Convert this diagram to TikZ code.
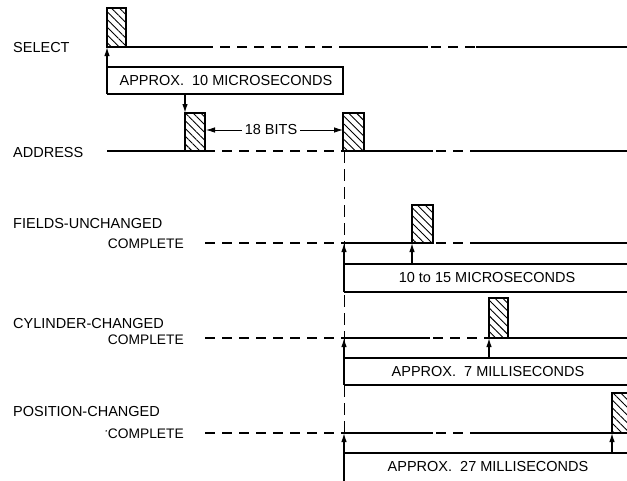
\documentclass[tikz,border=0pt]{standalone}
\usepackage{fontspec}
\setmainfont{Liberation Sans}
\usetikzlibrary{arrows.meta,patterns.meta}
\tikzset{
  sig/.style={line width=2pt},
  sigdash/.style={line width=2pt, dash pattern=on 10pt off 7pt},
  boxline/.style={line width=1.3pt},
  pulse/.style={draw, line width=1.4pt, pattern={Lines[angle=-45,distance=5.5pt,line width=0.9pt]}},
  arr/.style={line width=1.3pt, -{Latex[length=9pt,width=5.5pt]}},
  lbl/.style={font=\fontsize{14.5}{17}\selectfont, inner sep=0pt},
  lblc/.style={font=\fontsize{13.8}{17}\selectfont, inner sep=0pt},
  vdash/.style={line width=1pt, dash pattern=on 12pt off 6pt},
}
\begin{document}
\begin{tikzpicture}[x=1pt,y=-1pt]
\useasboundingbox (0,0) rectangle (627,480);
\clip (0,0) rectangle (627,480);

% ---------- labels ----------
\node[lbl, anchor=west] (lsel) at (13,48) {SELECT};
\node[lbl, anchor=west] (ladr) at (13,153) {ADDRESS};
\node[lbl, anchor=west] (lfu) at (13,224) {FIELDS-UNCHANGED};
\node[lblc, anchor=east] (lfuc) at (184,244) {COMPLETE};
\node[lbl, anchor=west] (lcc) at (13,324) {CYLINDER-CHANGED};
\node[lblc, anchor=east] (lccc) at (184,340) {COMPLETE};
\node[lbl, anchor=west] (lpc) at (13,412) {POSITION-CHANGED};
\node[lblc, anchor=east] (lpcc) at (184,434) {COMPLETE};
\fill ([xshift=-1.5pt,yshift=-2pt]lpcc.north west) circle (0.8);

% ---------- key coordinates ----------
\coordinate (s0) at (107,47);
\coordinate (s1) at (126,47);
\coordinate (a0) at (107,151);
\coordinate (a1) at (185,151);
\coordinate (a2) at (205,151);
\coordinate (a3) at (343,151);
\coordinate (a4) at (364,151);

% ---------- vertical dashed reference line ----------
\draw[vdash] (344,151) -- (344,480);

% ---------- SELECT ----------
\path[pulse] (107,8) rectangle (126,47);
\draw[sig] (s1) -- (203,47);
\draw[sigdash] (203,47) -- (343,47);
\draw[sig] (343,47) -- (428,47);
\draw[sigdash] (431,47) -- (476,47);
\draw[sig] (476,47) -- (627,47);
% box
\draw[boxline] (107,67) -- (343,67) -- (343,94) -- (107,94);
\draw[arr] (107,94) -- (s0);
\node[lbl] (t10) at (226,81) {APPROX.\ \ 10 MICROSECONDS};
\coordinate (ab) at (185,94);
\coordinate (at) at (185,113);
\draw[arr] (ab) -- (at);

% ---------- ADDRESS ----------
\draw[sig] (a0) -- (a1);
\path[pulse] (185,113) rectangle (205,151);
\draw[sigdash] (a2) -- (a3);
\path[pulse] (343,113) rectangle (364,151);
\draw[sig] (a4) -- (433,151);
\draw[sigdash] (436,151) -- (476,151);
\draw[sig] (476,151) -- (627,151);
\node[lbl] (bits) at (271,130) {18 BITS};
\coordinate (p1r) at (206,130);
\coordinate (p2l) at (343,130);
\draw[arr, line width=0.8pt, shorten <=3pt] (bits.west) -- (p1r);
\draw[arr, line width=0.8pt, shorten <=3pt] (bits.east) -- (p2l);

% ---------- FIELDS-UNCHANGED ----------
\draw[sigdash] (205,243) -- (344,243);
\draw[sig] (344,243) -- (433,243);
\path[pulse] (412,205) rectangle (433,243);
\draw[sigdash] (436,243) -- (477,243);
\draw[sig] (477,243) -- (627,243);
\draw[boxline] (627,264) -- (344,264);
\draw[boxline] (344,292) -- (627,292);
\draw[arr] (344,292) -- (344,243);
\draw[arr] (412,264) -- (412,243);
\node[lbl] (t1015) at (487,278) {10 to 15 MICROSECONDS};

% ---------- CYLINDER-CHANGED ----------
\draw[sigdash] (205,338) -- (344,338);
\draw[sig] (344,338) -- (430,338);
\draw[sigdash] (433,338) -- (489,338);
\path[pulse] (489,298) rectangle (508,338);
\draw[sig] (508,338) -- (627,338);
\draw[boxline] (627,358) -- (344,358);
\draw[boxline] (344,385) -- (627,385);
\draw[arr] (344,385) -- (344,338);
\draw[arr] (489,358) -- (489,338);
\node[lbl] (t7) at (488,372) {APPROX.\ \ 7 MILLISECONDS};

% ---------- POSITION-CHANGED ----------
\draw[sigdash] (205,433) -- (344,433);
\draw[sig] (344,433) -- (433,433);
\draw[sigdash] (436,433) -- (480,433);
\draw[sig] (480,433) -- (612,433);
\path[pulse] (612,393) rectangle (634,433);
\draw[boxline] (630,453) -- (344,453);
\draw[arr] (344,482) -- (344,433);
\draw[arr] (612,453) -- (612,433);
\node[lbl] (t27) at (488,467) {APPROX.\ \ 27 MILLISECONDS};
\end{tikzpicture}
\end{document}
